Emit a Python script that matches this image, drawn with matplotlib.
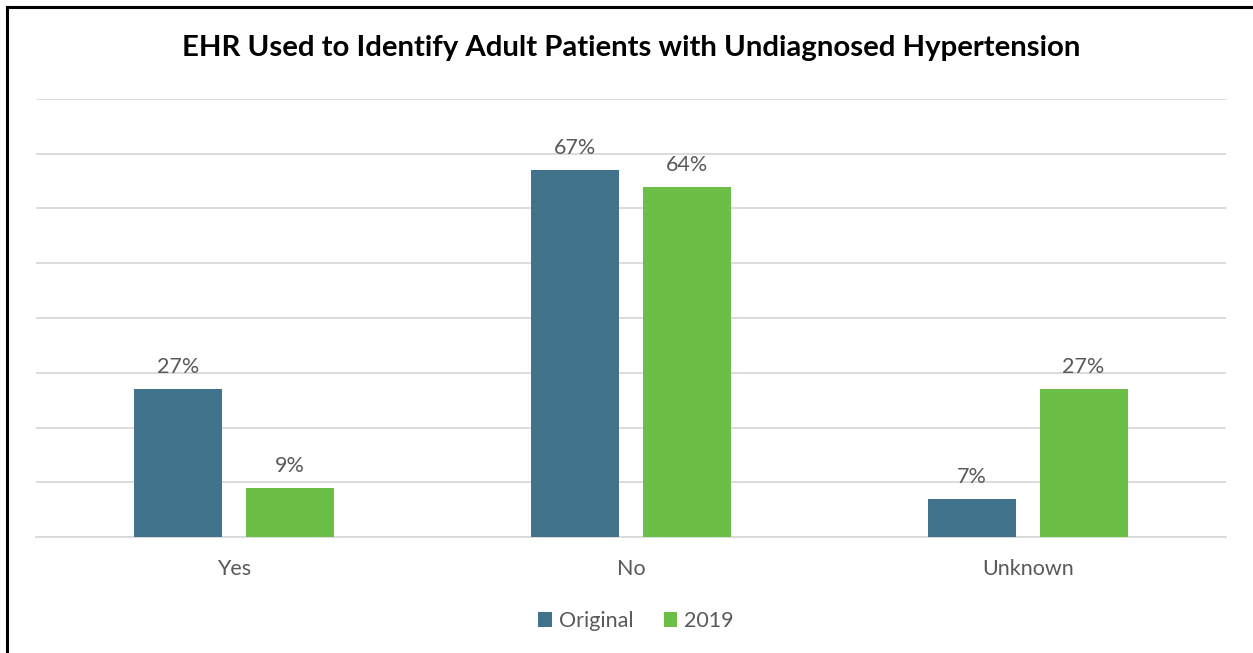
import matplotlib.pyplot as plt
import numpy as np
from matplotlib.lines import Line2D

categories = ["Yes", "No", "Unknown"]
original = [27, 67, 7]
y2019 = [9, 64, 27]
series_names = ["Original", "2019"]

plt.rcParams["font.family"] = ["Lato", "DejaVu Sans"]
grey = "#595959"
c_orig = "#41738C"
c_2019 = "#6BBF47"

fig = plt.figure(figsize=(12.53, 6.53), dpi=100)
ax = fig.add_axes([36 / 1253, 1 - 537 / 653, 1190 / 1253, 438 / 653])

x = np.arange(len(categories))
w = 0.222
off = 0.141
b1 = ax.bar(x - off, original, w, color=c_orig, label=series_names[0], zorder=3)
b2 = ax.bar(x + off, y2019, w, color=c_2019, label=series_names[1], zorder=3)

for bars in (b1, b2):
    for b in bars:
        ax.text(b.get_x() + b.get_width() / 2, b.get_height() + 2.2, f"{b.get_height():.0f}%",
                ha="center", va="bottom", fontsize=15.5, color=grey)

ax.set_xlim(-0.5, 2.5)
ax.set_ylim(0, 80)
ax.set_yticks(np.arange(0, 81, 10))
ax.yaxis.grid(True, color="#D9D9D9", linewidth=1.3, zorder=0)
ax.tick_params(axis="y", left=False, labelleft=False)
ax.tick_params(axis="x", length=0, pad=16, labelsize=15.5, labelcolor=grey)
ax.set_xticks(x)
ax.set_xticklabels(categories)
for s in ["left", "right", "top"]:
    ax.spines[s].set_visible(False)
ax.spines["bottom"].set_color("#D9D9D9")
ax.spines["bottom"].set_linewidth(1.3)

fig.text(631 / 1253, 1 - 48 / 653, "EHR Used to Identify Adult Patients with Undiagnosed Hypertension",
         ha="center", va="center", fontsize=21.2, fontweight="bold", color="black")

fig.legend(handles=[b1, b2], loc="center", bbox_to_anchor=(636 / 1253, 1 - 621 / 653), ncol=2,
           frameon=False, fontsize=15.5, labelcolor=grey, handlelength=0.65, handleheight=0.65,
           handletextpad=0.3, columnspacing=1.4)

# frame edges visible in the crop (left and top)
fig.add_artist(Line2D([7 / 1253, 7 / 1253], [0, 1 - 7 / 653], transform=fig.transFigure, color="black", lw=2.2))
fig.add_artist(Line2D([7 / 1253, 1], [1 - 7 / 653, 1 - 7 / 653], transform=fig.transFigure, color="black", lw=2.2))

fig.savefig("out.png", dpi=100)
